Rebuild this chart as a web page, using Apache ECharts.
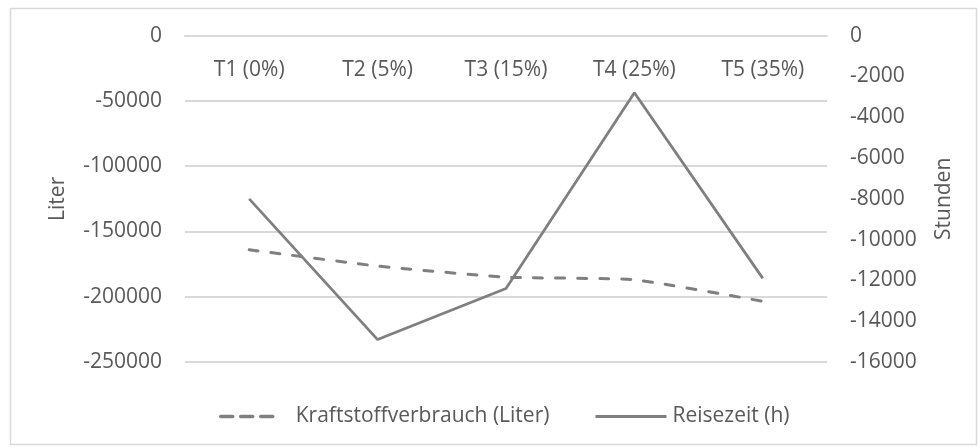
<!DOCTYPE html>
<html>
<head>
<meta charset="utf-8">
<script src="https://cdn.jsdelivr.net/npm/echarts@6/dist/echarts.min.js"></script>
<style>
html,body{margin:0;padding:0;background:#fff;}
#chart{width:979px;height:448px;}
</style>
</head>
<body>
<div id="chart"></div>
<script>
var categories = ['T1 (0%)', 'T2 (5%)', 'T3 (15%)', 'T4 (25%)', 'T5 (35%)'];
var kraftstoff = [-164000, -176500, -185000, -187000, -203500];
var reisezeit = [-8000, -14900, -12400, -2800, -11900];
var seriesNames = ['Kraftstoffverbrauch (Liter)', 'Reisezeit (h)'];
var leftAxisName = 'Liter';
var rightAxisName = 'Stunden';

var FONT = 'Open Sans';
var FS = 21;
var TXT = '#595959';
var LINE = '#7f7f7f';
function plain(v) { return String(v); }
var chart = echarts.init(document.getElementById('chart'), null, {renderer: 'canvas'});
chart.setOption({
  backgroundColor: '#fff',
  animation: false,
  textStyle: {fontFamily: FONT},
  graphic: [{
    type: 'rect', left: 8, top: 6,
    shape: {width: 966, height: 436},
    style: {fill: 'none', stroke: '#d9d9d9', lineWidth: 1.5},
    silent: true
  }],
  grid: {left: 185, right: 152, top: 35.7, bottom: 86, containLabel: false},
  legend: [{
    data: [seriesNames[0]],
    left: 219, top: 406, padding: 0,
    itemWidth: 56, itemHeight: 14,
    itemStyle: {color: 'rgba(0,0,0,0)', borderWidth: 0},
    lineStyle: {width: 3.5, type: [12, 8], cap: 'round', color: LINE},
    textStyle: {color: TXT, fontSize: FS, fontFamily: FONT, padding: [0, 0, 0, 14]}
  }, {
    data: [seriesNames[1]],
    left: 594, top: 406, padding: 0,
    itemWidth: 71, itemHeight: 14,
    itemStyle: {color: 'rgba(0,0,0,0)', borderWidth: 0},
    lineStyle: {width: 3, color: LINE},
    textStyle: {color: TXT, fontSize: FS, fontFamily: FONT, padding: [0, 0, 0, 1]}
  }],
  xAxis: {
    type: 'category',
    data: categories,
    position: 'top',
    boundaryGap: true,
    axisLine: {show: true, lineStyle: {color: '#d9d9d9', width: 2}},
    axisTick: {show: false},
    axisLabel: {inside: true, margin: 24, color: TXT, fontSize: FS, fontFamily: FONT},
    splitLine: {show: false}
  },
  yAxis: [{
    type: 'value',
    min: -250000, max: 0, interval: 50000,
    name: leftAxisName,
    nameLocation: 'middle',
    nameGap: 116,
    nameRotate: 90,
    nameTextStyle: {color: TXT, fontSize: FS, fontFamily: FONT},
    axisLine: {show: false},
    axisTick: {show: false},
    axisLabel: {color: TXT, fontSize: FS, fontFamily: FONT, margin: 23, formatter: plain},
    splitLine: {show: true, lineStyle: {color: '#d9d9d9', width: 2}}
  }, {
    type: 'value',
    min: -16000, max: 0, interval: 2000,
    name: rightAxisName,
    nameLocation: 'middle',
    nameGap: 107,
    nameRotate: 90,
    nameTextStyle: {color: TXT, fontSize: FS, fontFamily: FONT},
    axisLine: {show: false},
    axisTick: {show: false},
    axisLabel: {color: TXT, fontSize: FS, fontFamily: FONT, margin: 23, formatter: plain},
    splitLine: {show: false}
  }],
  series: [{
    name: seriesNames[0],
    type: 'line',
    yAxisIndex: 0,
    data: kraftstoff,
    smooth: 0.15,
    symbol: 'none',
    lineStyle: {color: LINE, width: 3, type: [9, 13], cap: 'round'},
    itemStyle: {color: LINE}
  }, {
    name: seriesNames[1],
    type: 'line',
    yAxisIndex: 1,
    data: reisezeit,
    symbol: 'none',
    lineStyle: {color: LINE, width: 2.75},
    itemStyle: {color: LINE}
  }]
});
</script>
</body>
</html>
